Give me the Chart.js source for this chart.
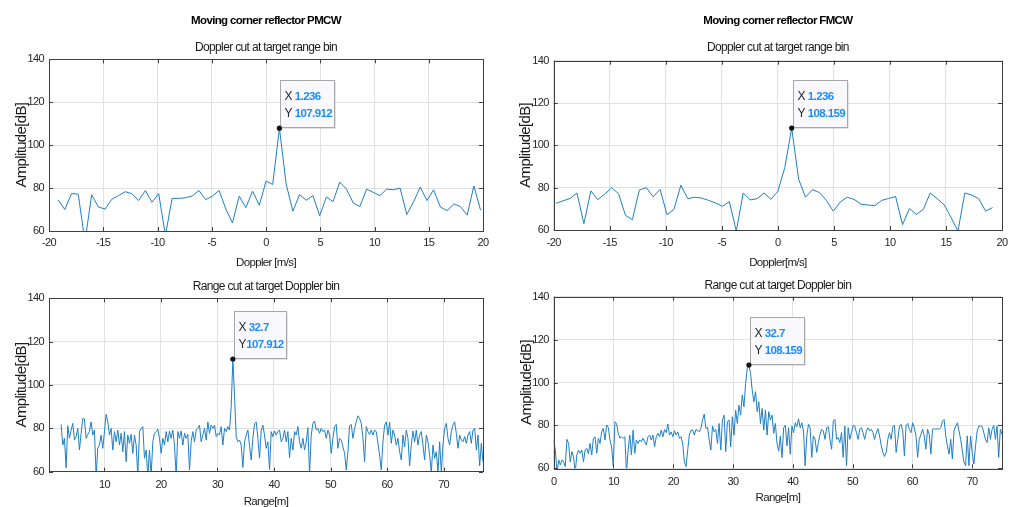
<!DOCTYPE html>
<html>
<head>
<meta charset="utf-8">
<script src="https://cdn.jsdelivr.net/npm/chart.js@4.4.1/dist/chart.umd.min.js"></script>
<style>
  html, body { margin: 0; padding: 0; background: #fff; overflow: hidden; }
  #wrap { position: relative; width: 1018px; height: 507px; overflow: hidden; }
  canvas { position: absolute; }
</style>
</head>
<body>
<div id="wrap">
  <canvas id="pmcwDopplerChart" width="500" height="274" style="left:0;top:0"></canvas>
  <canvas id="fmcwDopplerChart" width="513" height="274" style="left:505px;top:0"></canvas>
  <canvas id="pmcwRangeChart" width="500" height="240" style="left:0;top:274px"></canvas>
  <canvas id="fmcwRangeChart" width="513" height="240" style="left:505px;top:274px"></canvas>
</div>
<script>
// Doppler cuts (amplitude in dB per Doppler bin, bin width 0.618 m/s)
const dopplerBinWidth = 0.618;
const pmcwDopplerFirstBin = -31;
const pmcwDopplerAmp = [74.5, 70, 77.5, 77.1, 55, 76.9, 71.2, 70.2, 74.8, 76.5,
  78.3, 77.4, 74.2, 78.8, 73.4, 77.4, 58, 75.2, 75.2, 75.5,
  76.3, 78.9, 74.6, 76.2, 78.9, 70.3, 63.8, 76.2, 70.9, 78.6,
  72, 83.2, 81.7, 107.912, 82, 69.2, 76.9, 74.3, 76.5, 67.1,
  75.8, 73.7, 82.8, 79.5, 73.1, 71.4, 79.5, 78, 76.5, 79.5,
  79.2, 80, 67.7, 73.5, 80.5, 74.2, 79.2, 71.2, 69.5, 72.6,
  71.4, 67.4, 81, 69.7];
const fmcwDopplerFirstBin = -32;
const fmcwDopplerAmp = [72.6, 73.8, 74.9, 77.5, 63, 78.5, 74.3, 76.9, 80, 77.2,
  66.9, 64.9, 78.9, 80, 75.7, 79.2, 67.2, 69.8, 81.2, 74.8,
  75.5, 75.1, 74, 72.8, 71.2, 73.4, 59.5, 77.5, 74.2, 74.8,
  77.5, 74.5, 78.3, 89.4, 108.159, 84, 75.5, 79.1, 77.7, 74,
  68.9, 73.2, 75.5, 74.5, 72.2, 71.8, 71.5, 74, 74.9, 75.8,
  62.5, 70.2, 67.4, 69.7, 77.5, 74.8, 72, 66, 59.5, 77.5,
  76.5, 74.8, 68.9, 70.6];

// Range cuts (amplitude in dB per range bin)
const pmcwRangeFirst = 2.34;
const pmcwRangeLast = 76.97;
const pmcwRangeAmp = [81.8, 72.3, 75.4, 61.8, 81.2, 75.4, 79.2, 82.3, 74.6, 76.2,
  80, 70, 77.7, 84.6, 84.3, 75.4, 77.2, 78.5, 83, 76.9,
  79.2, 58, 70.8, 72.3, 76.9, 70.8, 78.5, 86.5, 83, 76.9,
  80, 70, 78.5, 73.8, 79.2, 72.3, 77.7, 69.2, 78.5, 64.6,
  76.9, 73.1, 77.2, 68.5, 76.9, 72.3, 58, 78.5, 80, 80.8,
  66.2, 70, 58, 70, 58, 73.8, 77.7, 78.5, 79.7, 75.4,
  68.5, 75.4, 72.3, 78.5, 73.8, 78.8, 75.4, 79.2, 72.3, 58,
  78.5, 75.4, 78.8, 72.3, 77.7, 75.4, 77.2, 60.8, 73.8, 78.5,
  73.8, 79.2, 80, 81.5, 73.8, 76.9, 80, 74.6, 83, 77.7,
  81.5, 80, 81.5, 76.2, 77.7, 76.9, 80.8, 72.3, 80, 78.5,
  80.8, 79.2, 90, 112, 95, 76, 73.8, 74.6, 72.3, 62,
  73.8, 76.9, 79.2, 72, 65.4, 75.4, 82.3, 83, 75.4, 66.2,
  79.2, 81.5, 76.9, 70.8, 73.8, 61,
  78.5, 76.2, 78.8, 76.9, 78.5, 79.2, 73.8, 75.4, 79.2, 73.8,
  78.5, 66.5, 75.4, 70, 78.5, 76.9, 80.8, 73.8, 70.8, 75.4,
  70, 73.8, 80.3, 59, 76.9, 82.3, 83.4, 79.2, 80, 77.7,
  80, 78.5, 79.2, 75.4, 79.2, 76.9, 68.5, 75.4, 80.8, 81.8,
  70.8, 75.4, 74.6, 71.5, 68.5, 60.8, 69.2, 81.2, 81.8, 75.4,
  80, 83, 85.8, 84.6, 82.3, 75.4, 64.6, 80.8, 78.5, 77.2,
  79.2, 76.9, 79.2, 78.5, 73.1, 67.7, 60.8, 73.8, 81.5, 83,
  76.9, 82.8, 73.1, 79.2, 76.9, 72.3, 75.4, 69.2, 65.4, 76.9,
  71.5, 79.2, 75.4, 62.7, 72.3, 78.8, 73.8, 79.2, 72.3, 76.9,
  78.5, 72.3, 65.4, 76.9, 73.8, 67.7, 59.7, 72.3, 66.2, 69.2,
  59.7, 73.8, 59.7, 72.3, 80, 82.3, 75.4, 72.3, 78.5, 81.5,
  83, 77.7, 70.8, 76.9, 74.6, 73.8, 76.2, 73.1, 76.9, 78.5,
  73.1, 79.2, 80, 70, 76.9, 62.7, 73.1, 64.6];
const fmcwRangeFirst = 0;
const fmcwRangeLast = 75;
const fmcwRangeAmp = [73.2, 68.5, 58, 63.9, 61.6, 63.9, 63, 60.8, 73.5, 71.6,
  63, 67.8, 65.4, 58, 66.2, 68.5, 67, 68.5, 63, 68.5,
  69.3, 66.7, 71.6, 66.2, 74, 74.7, 67, 74, 71.6, 77,
  78.6, 73.2, 80.2, 79.1, 73.2, 70, 61.1, 81.7, 80.9, 76.3,
  74, 74.7, 74, 74.7, 58, 68.5, 75.5, 66.2, 77.8, 67,
  73.2, 71.6, 73.2, 72.4, 74, 72.4, 70.9, 74.7, 75.5, 73.2,
  75.5, 70, 74.7, 76.3, 74.7, 77.8, 74.7, 78.1, 76.6, 80.6,
  75.5, 77, 74.7, 77.5, 75.5, 77, 74, 74.7, 71.3, 63,
  60.8, 68.5, 75.5, 77.8, 77.8, 75.5, 78.1, 77.8, 77, 78.6,
  82.5, 85.3, 78.6, 79.1, 73.2, 68.5, 79.7, 77, 78.1, 71.6,
  80.9, 68.5, 82.5, 84.8, 67.8, 81.7, 82.5, 70, 84, 75.5,
  87.1, 80.9, 89.5, 84.8, 94.1, 88.7, 99.5, 106.5, 108.159, 104.2,
  96.4, 91, 95.7, 86.4, 91, 80.9, 87.9, 77.8, 87.1, 75.5,
  86.4, 82.5, 84.8, 76.3, 80.9, 71.6, 68,
  75, 65, 78.9, 80, 70.5, 78.9, 66.6, 79.7, 76.6, 81.2,
  79.4, 83.1, 78.9, 81.2, 77.4, 61.2, 75.1, 80.5, 78.9, 65.1,
  75.1, 73.5, 67.4, 72, 75.8, 78.2, 77.4, 73.5, 78.9, 79.4,
  73.5, 68.9, 82, 82.8, 73.5, 74.3, 72, 76.6, 65.1, 79.7,
  61.2, 78.9, 73.5, 76.6, 80, 79.7, 76.6, 73.5, 78.2, 78.9,
  76.6, 73.5, 77.4, 78.9, 77.4, 78.2, 76.6, 73.5, 76.6, 78.5,
  75.1, 70.5, 67.4, 65.5, 67.4, 73.5, 76.6, 73.5, 79.4, 80,
  67.4, 73.5, 79.4, 80.5, 77.4, 65.8, 80, 80.9, 78.2, 76.6,
  81.2, 78.9, 75.1, 65.1, 73.5, 75.8, 78.2, 75.1, 68.9, 78.2,
  75.8, 66.6, 78.2, 78.5, 78.2, 78.5, 78.2, 78.9, 82, 82.8,
  75.1, 70.5, 66.6, 73.5, 64.3, 77.4, 79.7, 81.2, 77.4, 73.5,
  68.2, 62.8, 61.2, 75.1, 61.2, 75.1, 67.4, 62, 70.5, 77.4,
  79.7, 79.7, 79.4, 76.6, 73.5, 72, 78.9, 73.5, 78.2, 80,
  73.5, 79.7, 65.1, 78.2, 75.8];

// Data tip texts
const pmcwDopplerTip = ['1.236', '107.912'];
const fmcwDopplerTip = ['1.236', '108.159'];
const pmcwRangeTip = ['32.7', '107.912'];
const fmcwRangeTip = ['32.7', '108.159'];

const FONT = "'Liberation Sans Narrow', 'Arial Narrow', 'Liberation Sans', Arial, sans-serif";
const lineBlue = '#1f7fc6';
const gridGray = '#e1e1e1';
const axisGray = '#262626';

const SIZE_TITLE = 11.5, SIZE_SUB = 12, SIZE_TICK = 11, SIZE_XT = 11.5, SIZE_YT = 15;
const lh = s => s * 1.2;

function dopplerPoints(firstBin, amps) {
  return amps.map((v, i) => ({ x: (firstBin + i) * dopplerBinWidth, y: v }));
}
function rangePoints(first, last, amps) {
  const step = (last - first) / (amps.length - 1);
  return amps.map((v, i) => ({ x: first + i * step, y: v }));
}
function peakOf(points) {
  return points.reduce((a, b) => (b.y > a.y ? b : a));
}

// texto algo mas estrecho, como en la figura original
const narrowText = {
  id: 'narrowText',
  beforeDraw(chart) {
    chart.ctx.letterSpacing = '-0.65px';
  }
};

// caja de ejes con marcas hacia dentro (estilo MATLAB)
const axesBox = {
  id: 'axesBox',
  afterDraw(chart) {
    const { ctx, chartArea: a, scales: { x, y } } = chart;
    ctx.save();
    ctx.strokeStyle = '#404040';
    ctx.lineWidth = 1;
    ctx.beginPath();
    x.ticks.forEach(t => {
      const px = Math.round(x.getPixelForValue(t.value)) + 0.5;
      ctx.moveTo(px, a.bottom); ctx.lineTo(px, a.bottom - 4);
      ctx.moveTo(px, a.top); ctx.lineTo(px, a.top + 4);
    });
    y.ticks.forEach(t => {
      const py = Math.round(y.getPixelForValue(t.value)) + 0.5;
      ctx.moveTo(a.left, py); ctx.lineTo(a.left + 4, py);
      ctx.moveTo(a.right, py); ctx.lineTo(a.right - 4, py);
    });
    ctx.stroke();
    ctx.strokeRect(Math.round(a.left) + 0.5, Math.round(a.top) + 0.5,
      Math.round(a.right - a.left), Math.round(a.bottom - a.top));
    ctx.restore();
  }
};

// data tip box at the peak
const datatip = {
  id: 'datatip',
  afterDraw(chart, args, tip) {
    if (!tip || !tip.text) return;
    const { ctx, scales: { x, y } } = chart;
    const peak = peakOf(chart.data.datasets[0].data);
    const px = x.getPixelForValue(peak.x);
    const py = y.getPixelForValue(peak.y);
    const labelFont = '12px ' + FONT;
    const valueFont = 'bold 11.5px ' + FONT;
    ctx.save();
    ctx.font = labelFont;
    const lw = Math.max(ctx.measureText('X').width, ctx.measureText('Y').width);
    ctx.font = valueFont;
    const widths = tip.text.map((t, i) => tip.gap[i] + ctx.measureText(t).width);
    const w = Math.round(4 + lw + Math.max(...widths) + 3);
    const h = 47;
    const left = Math.round(px) + 1.5;
    const top = Math.round(py) - h - 0.5;
    ctx.fillStyle = 'rgba(0,0,0,0.10)';
    ctx.fillRect(left + 1.5, top + 1.5, w, h);
    ctx.fillStyle = '#f9f9fd';
    ctx.fillRect(left, top, w, h);
    ctx.strokeStyle = '#a8a8a8';
    ctx.lineWidth = 1;
    ctx.strokeRect(left, top, w, h);
    ctx.textBaseline = 'middle';
    ctx.textAlign = 'left';
    ['X', 'Y'].forEach((lab, i) => {
      const cy = top + 16.5 + i * 17;
      ctx.font = labelFont;
      ctx.fillStyle = '#262626';
      ctx.fillText(lab, left + 4, cy);
      ctx.font = valueFont;
      ctx.fillStyle = '#1a8cff';
      ctx.fillText(tip.text[i], left + 4 + lw + tip.gap[i], cy);
    });
    ctx.fillStyle = '#111';
    ctx.beginPath();
    ctx.arc(px, py, 2.6, 0, Math.PI * 2);
    ctx.fill();
    ctx.restore();
  }
};

function buildChart(id, o) {
  const canvas = document.getElementById(id);
  const H = canvas.height;
  const plugins = { legend: { display: false }, tooltip: { enabled: false }, datatip: o.tip };
  if (o.mainTitle) {
    plugins.title = {
      display: true, text: o.mainTitle, fullSize: false, color: '#000',
      font: { family: FONT, size: SIZE_TITLE, weight: 'bold', lineHeight: 1.2 },
      padding: { top: o.c1 - lh(SIZE_TITLE) / 2, bottom: o.c2 - lh(SIZE_SUB) / 2 - o.c1 - lh(SIZE_TITLE) / 2 }
    };
    plugins.subtitle = {
      display: true, text: o.subTitle, fullSize: false, color: '#1a1a1a',
      font: { family: FONT, size: SIZE_SUB, lineHeight: 1.2 },
      padding: { top: 0, bottom: o.top - o.c2 - lh(SIZE_SUB) / 2 }
    };
  } else {
    plugins.title = {
      display: true, text: o.subTitle, fullSize: false, color: '#1a1a1a',
      font: { family: FONT, size: SIZE_SUB, weight: 'normal', lineHeight: 1.2 },
      padding: { top: o.c1 - lh(SIZE_SUB) / 2, bottom: o.top - o.c1 - lh(SIZE_SUB) / 2 }
    };
  }
  return new Chart(canvas, {
    type: 'line',
    data: {
      datasets: [{
        data: o.points, borderColor: lineBlue, borderWidth: 1,
        pointRadius: 0, tension: 0, fill: false
      }]
    },
    options: {
      animation: false, responsive: false, devicePixelRatio: 1, events: [],
      layout: { padding: { left: 0, right: canvas.width - o.right, top: 0, bottom: 0 } },
      plugins,
      scales: {
        x: {
          type: 'linear', min: o.xMin, max: o.xMax,
          afterFit: s => { s.height = H - o.bottom; },
          ticks: {
            stepSize: o.xStep, includeBounds: false, autoSkip: false, maxRotation: 0,
            padding: o.xTickC - o.bottom - lh(SIZE_TICK) / 2, color: axisGray,
            font: { family: FONT, size: SIZE_TICK, lineHeight: 1.2 }
          },
          grid: { color: gridGray, drawTicks: false },
          border: { display: false },
          title: {
            display: true, text: o.xTitle, color: '#1a1a1a',
            font: { family: FONT, size: SIZE_XT, lineHeight: 1.2 },
            padding: { top: 0, bottom: H - o.xTitleC - lh(SIZE_XT) / 2 }
          }
        },
        y: {
          type: 'linear', min: 60, max: 140,
          afterFit: s => { s.width = o.left; },
          ticks: {
            stepSize: 20, padding: 5, color: axisGray,
            font: { family: FONT, size: SIZE_TICK, lineHeight: 1.2 }
          },
          grid: { color: gridGray, drawTicks: false },
          border: { display: false },
          title: {
            display: true, text: 'Amplitude[dB]', color: '#1a1a1a',
            font: { family: FONT, size: SIZE_YT, lineHeight: 1.2 },
            padding: { top: o.yTitleC - lh(SIZE_YT) / 2, bottom: 0 }
          }
        }
      }
    },
    plugins: [narrowText, axesBox, datatip]
  });
}

buildChart('pmcwDopplerChart', {
  points: dopplerPoints(pmcwDopplerFirstBin, pmcwDopplerAmp),
  mainTitle: 'Moving corner reflector PMCW', subTitle: 'Doppler cut at target range bin',
  xTitle: 'Doppler [m/s]', xMin: -20, xMax: 20, xStep: 5,
  left: 49, right: 483, top: 59.3, bottom: 231,
  c1: 21, c2: 48, xTickC: 243, xTitleC: 263, yTitleC: 21.7,
  tip: { text: pmcwDopplerTip, gap: [3, 3] }
});
buildChart('fmcwDopplerChart', {
  points: dopplerPoints(fmcwDopplerFirstBin, fmcwDopplerAmp),
  mainTitle: 'Moving corner reflector FMCW', subTitle: 'Doppler cut at target range bin',
  xTitle: 'Doppler[m/s]', xMin: -20, xMax: 20, xStep: 5,
  left: 48.7, right: 497, top: 60.7, bottom: 230,
  c1: 21, c2: 48, xTickC: 243.3, xTitleC: 263, yTitleC: 21,
  tip: { text: fmcwDopplerTip, gap: [3, 3] }
});
buildChart('pmcwRangeChart', {
  points: rangePoints(pmcwRangeFirst, pmcwRangeLast, pmcwRangeAmp),
  subTitle: 'Range cut at target Doppler bin',
  xTitle: 'Range[m]', xMin: 0.2, xMax: 76.97, xStep: 10,
  left: 49, right: 483, top: 24.3, bottom: 197.7,
  c1: 13, xTickC: 211.3, xTitleC: 227.7, yTitleC: 21.7,
  tip: { text: pmcwRangeTip, gap: [3, 0.5] }
});
buildChart('fmcwRangeChart', {
  points: rangePoints(fmcwRangeFirst, fmcwRangeLast, fmcwRangeAmp),
  subTitle: 'Range cut at target Doppler bin',
  xTitle: 'Range[m]', xMin: 0, xMax: 75, xStep: 10,
  left: 48.7, right: 497, top: 22.7, bottom: 194.3,
  c1: 12, xTickC: 208.3, xTitleC: 224.3, yTitleC: 21.7,
  tip: { text: fmcwRangeTip, gap: [3, 3] }
});
</script>
</body>
</html>
